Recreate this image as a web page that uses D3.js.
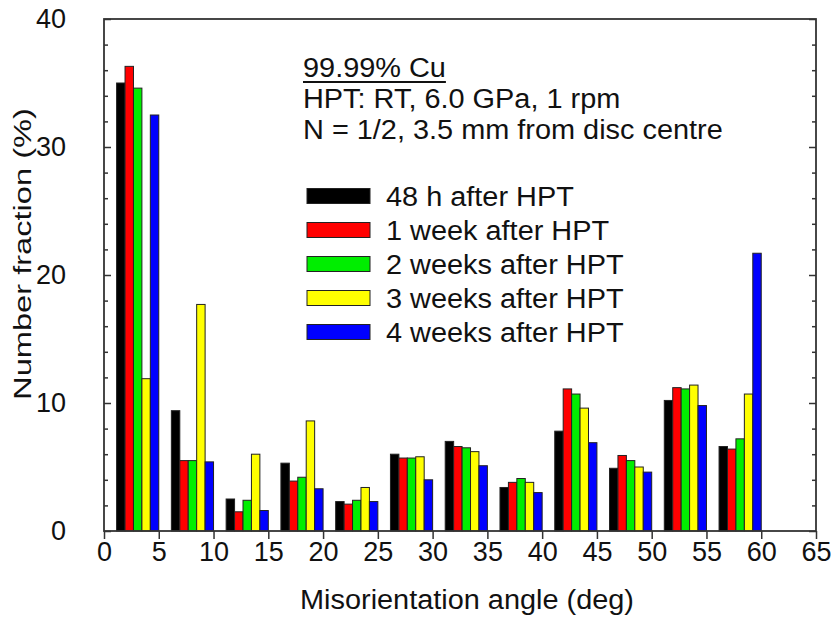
<!DOCTYPE html>
<html>
<head>
<meta charset="utf-8">
<script src="https://cdn.jsdelivr.net/npm/d3@7"></script>
<style>
  html, body { margin: 0; padding: 0; background: #fff; }
  text { font-family: "Liberation Sans", Arial, sans-serif; fill: #111; }
</style>
</head>
<body>
<svg id="chart" width="835" height="639"></svg>
<script>
// ---- data ----
const binStarts = [0, 5, 10, 15, 20, 25, 30, 35, 40, 45, 50, 55];
const seriesNames = ["48 h after HPT", "1 week after HPT", "2 weeks after HPT", "3 weeks after HPT", "4 weeks after HPT"];
const seriesColors = ["#000000", "#ff0000", "#00ee00", "#ffff00", "#0000ff"];
const values48h = [35.0, 9.4, 2.5, 5.3, 2.3, 6.0, 7.0, 3.4, 7.8, 4.9, 10.2, 6.6];
const values1w  = [36.3, 5.5, 1.5, 3.9, 2.1, 5.7, 6.6, 3.8, 11.1, 5.9, 11.2, 6.4];
const values2w  = [34.6, 5.5, 2.4, 4.2, 2.4, 5.7, 6.5, 4.1, 10.7, 5.5, 11.1, 7.2];
const values3w  = [11.9, 17.7, 6.0, 8.6, 3.4, 5.8, 6.2, 3.8, 9.6, 5.0, 11.4, 10.7];
const values4w  = [32.5, 5.4, 1.6, 3.3, 2.3, 4.0, 5.1, 3.0, 6.9, 4.6, 9.8, 21.7];
const allSeries = [values48h, values1w, values2w, values3w, values4w];
const xTicks = [0, 5, 10, 15, 20, 25, 30, 35, 40, 45, 50, 55, 60, 65];
const yTicks = [0, 10, 20, 30, 40];
const yMinorTicks = [2, 4, 6, 8, 12, 14, 16, 18, 22, 24, 26, 28, 32, 34, 36, 38];
const xTitle = "Misorientation angle (deg)";
const yTitle = "Number fraction (%)";
const noteLines = ["99.99% Cu", "HPT: RT, 6.0 GPa, 1 rpm", "N = 1/2, 3.5 mm from disc centre"];

// ---- layout ----
const L = 104, R = 816, T = 19, B = 531;
const FS = 27;
const SX = 1.07; // horizontal stretch of text
const svg = d3.select("#chart");
svg.append("rect").attr("width", 835).attr("height", 639).attr("fill", "#fff");

const x = d3.scaleLinear().domain([0, 65]).range([L, R]);
const y = d3.scaleLinear().domain([0, 40]).range([B, T]);

const barOffset = 1.15, barW = 0.77;

// bars
const barData = [];
allSeries.forEach((vals, si) => {
  vals.forEach((v, bi) => barData.push({si, bin: binStarts[bi], v}));
});
svg.append("g").selectAll("rect").data(barData).join("rect")
  .attr("x", d => x(d.bin + barOffset + d.si * barW))
  .attr("width", d => x(d.bin + barOffset + (d.si + 1) * barW) - x(d.bin + barOffset + d.si * barW))
  .attr("y", d => y(d.v))
  .attr("height", d => y(0) - y(d.v))
  .attr("fill", d => seriesColors[d.si])
  .attr("stroke", "#222")
  .attr("stroke-width", 1);

// axes
function styleAxis(g) {
  g.select(".domain").remove();
  g.selectAll(".tick line").attr("stroke", "#333").attr("stroke-width", 1.5);
  g.selectAll(".tick text").attr("font-size", FS).attr("fill", "#111")
    .attr("font-family", '"Liberation Sans", Arial, sans-serif');
}
svg.append("g").attr("transform", `translate(0,${B})`)
  .call(d3.axisBottom(x).tickValues(xTicks).tickFormat(d3.format("d")).tickSize(8).tickPadding(3))
  .call(styleAxis);
svg.append("g").attr("transform", `translate(${L},0)`)
  .call(d3.axisLeft(y).tickValues(yTicks).tickFormat(d3.format("d")).tickSize(-7).tickPadding(38))
  .call(styleAxis);
svg.append("g").attr("transform", `translate(${L},0)`)
  .call(d3.axisLeft(y).tickValues(yMinorTicks).tickFormat("").tickSize(-4))
  .call(styleAxis);
svg.append("g").attr("transform", `translate(${R},0)`)
  .call(d3.axisRight(y).tickValues(yTicks).tickFormat("").tickSize(-7))
  .call(styleAxis);
svg.append("g").attr("transform", `translate(${R},0)`)
  .call(d3.axisRight(y).tickValues(yMinorTicks).tickFormat("").tickSize(-4))
  .call(styleAxis);

// frame
svg.append("rect").attr("x", L).attr("y", T).attr("width", R - L).attr("height", B - T)
  .attr("fill", "none").attr("stroke", "#333").attr("stroke-width", 1.8);

// helper for stretched text
function stretchedText(px, py, str, anchor, rot, sx, fs) {
  return svg.append("text")
    .attr("transform", `translate(${px},${py}) rotate(${rot}) scale(${sx},1)`)
    .attr("text-anchor", anchor).attr("font-size", fs || FS).text(str);
}

// axis titles
stretchedText(467, 609, xTitle, "middle", 0, SX);
stretchedText(31, 254, yTitle, "middle", -90, 1.36, 24);

// notes
const noteBase = [77, 108, 139];
noteLines.forEach((t, i) => {
  const tx = stretchedText(303, noteBase[i], t, "start", 0, SX);
  if (i === 0) {
    const w = tx.node().getComputedTextLength() * SX;
    svg.append("line").attr("x1", 303).attr("x2", 303 + w).attr("y1", 82).attr("y2", 82)
      .attr("stroke", "#111").attr("stroke-width", 2);
  }
});

// legend
seriesNames.forEach((name, i) => {
  const cy = 196 + i * 34;
  svg.append("rect").attr("x", 307).attr("y", cy - 7.5).attr("width", 63).attr("height", 15)
    .attr("fill", seriesColors[i]).attr("stroke", "#222").attr("stroke-width", 1);
  stretchedText(386, cy + 10, name, "start", 0, SX);
});
</script>
</body>
</html>
